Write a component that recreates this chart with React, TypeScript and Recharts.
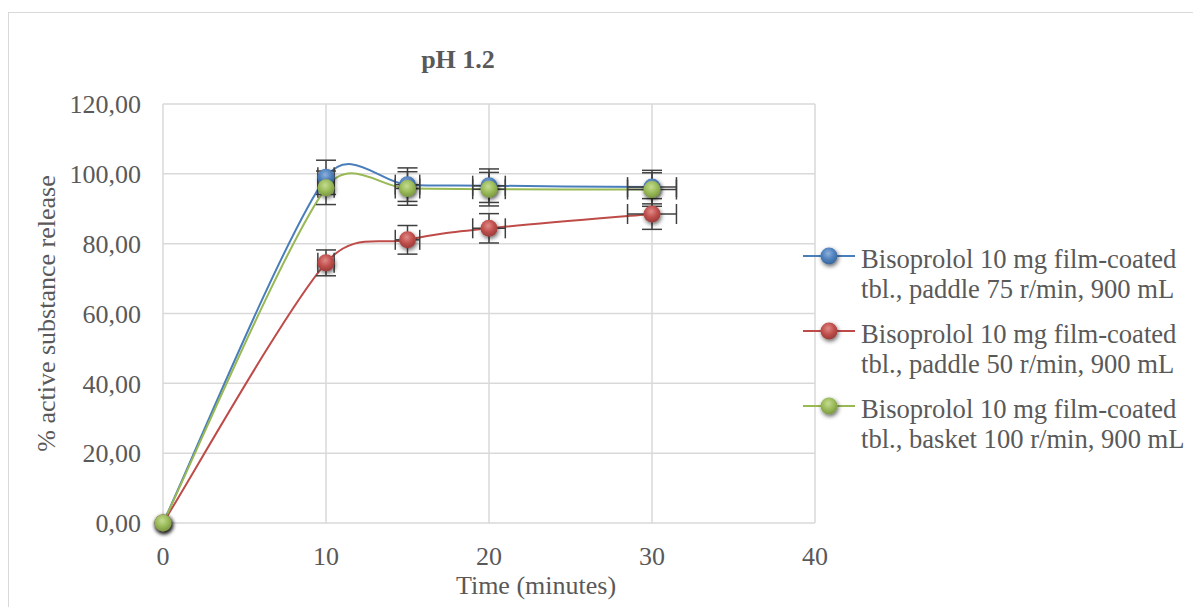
import React from 'react';
import {
  ComposedChart,
  Line,
  Scatter,
  XAxis,
  YAxis,
  CartesianGrid,
  ErrorBar,
} from 'recharts';

// sampling times (minutes)
const time = [0, 10, 15, 20, 30];
const timeErr = [0, 0.5, 0.75, 1.0, 1.5];

// % released
const paddle75 = [0, 99.0, 96.9, 96.6, 96.2];
const paddle50 = [0, 74.5, 81.1, 84.4, 88.5];
const basket100 = [0, 96.0, 95.8, 95.6, 95.5];

const paddle75Err = [0, 4.9, 4.8, 4.8, 4.8];
const paddle50Err = [0, 3.7, 4.1, 4.2, 4.4];
const basket100Err = [0, 4.8, 4.8, 4.8, 4.8];

const seriesNames = [
  ['Bisoprolol 10 mg film-coated', 'tbl., paddle 75 r/min, 900 mL'],
  ['Bisoprolol 10 mg film-coated', 'tbl., paddle 50 r/min, 900 mL'],
  ['Bisoprolol 10 mg film-coated', 'tbl., basket 100 r/min, 900 mL'],
];

const xTicks = [0, 10, 20, 30, 40];
const yTicks = [0, 20, 40, 60, 80, 100, 120];

const FONT = '"Liberation Serif", "Times New Roman", serif';
const TEXT = '#595959';

const series = [
  { id: 'p75', values: paddle75, err: paddle75Err, line: '#4A7EBB', fill: '#4F81BD', light: '#8fb0dc', dark: '#3a659a' },
  { id: 'p50', values: paddle50, err: paddle50Err, line: '#BE4B48', fill: '#C0504D', light: '#e08a87', dark: '#9a3a38' },
  { id: 'b100', values: basket100, err: basket100Err, line: '#98B954', fill: '#9BBB59', light: '#c4dc92', dark: '#7a9741' },
].map((s, i) => ({
  ...s,
  names: seriesNames[i],
  data: time.map((t, j) => ({ t, v: s.values[j], ex: timeErr[j], ey: s.err[j] })),
}));

// smoothed line like the spreadsheet "smoothed line": bezier with 1/6 tangents,
// each control arm capped at half the segment length
function smoothCurve(context: any) {
  let pts: [number, number][] = [];
  return {
    areaStart() {},
    areaEnd() {},
    lineStart() {
      pts = [];
    },
    point(x: number, y: number) {
      pts.push([+x, +y]);
    },
    lineEnd() {
      if (!pts.length) return;
      context.moveTo(pts[0][0], pts[0][1]);
      const arm = (a: [number, number], b: [number, number], cap: number) => {
        let dx = (b[0] - a[0]) / 6;
        let dy = (b[1] - a[1]) / 6;
        const len = Math.hypot(dx, dy);
        if (len > cap && len > 0) {
          dx *= cap / len;
          dy *= cap / len;
        }
        return [dx, dy];
      };
      for (let i = 0; i < pts.length - 1; i++) {
        const p0 = pts[i - 1] || pts[i];
        const p1 = pts[i];
        const p2 = pts[i + 1];
        const p3 = pts[i + 2] || p2;
        const half = Math.hypot(p2[0] - p1[0], p2[1] - p1[1]) / 2;
        const t1 = arm(p0, p2, half);
        const t2 = arm(p1, p3, half);
        context.bezierCurveTo(p1[0] + t1[0], p1[1] + t1[1], p2[0] - t2[0], p2[1] - t2[1], p2[0], p2[1]);
      }
    },
  };
}

function Marker(props: any) {
  const { cx, cy, id } = props;
  if (cx == null || cy == null) return null;
  return (
    <circle cx={cx} cy={cy} r={8.5} fill={`url(#grad-${id})`} filter="url(#mshadow)" />
  );
}

const fmt = (v: number) => v.toFixed(2).replace('.', ',');

export default function App() {
  return (
    <div style={{ position: 'relative', width: 1185, height: 599, overflow: 'hidden', fontFamily: FONT }}>
      <svg width={0} height={0} style={{ position: 'absolute' }}>
        <defs>
          {series.map((s) => (
            <radialGradient key={s.id} id={`grad-${s.id}`} cx="45%" cy="35%" r="65%">
              <stop offset="0%" stopColor={s.light} />
              <stop offset="55%" stopColor={s.fill} />
              <stop offset="100%" stopColor={s.dark} />
            </radialGradient>
          ))}
          <filter id="mshadow" x="-60%" y="-60%" width="220%" height="220%">
            <feDropShadow dx="1" dy="2" stdDeviation="2" floodColor="#000" floodOpacity="0.6" />
          </filter>
        </defs>
      </svg>

      <div
        style={{
          position: 'absolute',
          left: 0,
          top: 4,
          width: 1400,
          height: 800,
          border: '1px solid #d9d9d9',
        }}
      />

      <div
        style={{
          position: 'absolute',
          left: 350,
          top: 37,
          width: 200,
          textAlign: 'center',
          fontSize: 26,
          fontWeight: 'bold',
          lineHeight: '30px',
          color: TEXT,
        }}
      >
        pH 1.2
      </div>

      <ComposedChart
        width={1185}
        height={599}
        margin={{ top: 96, right: 378, bottom: 0, left: 0 }}
        style={{ position: 'absolute', left: 0, top: 0 }}
      >
        <CartesianGrid stroke="#d9d9d9" strokeWidth={1.5} verticalValues={xTicks} horizontalValues={yTicks} />
        <XAxis
          type="number"
          dataKey="t"
          domain={[0, 40]}
          ticks={xTicks}
          height={84}
          axisLine={false}
          tickLine={false}
          tickSize={0}
          tickMargin={24}
          tick={{ fill: TEXT, fontSize: 26, fontFamily: FONT }}
          label={{
            content: (p: any) => (
              <text
                x={p.viewBox.x + 373}
                y={p.viewBox.y + 71}
                textAnchor="middle"
                fill={TEXT}
                fontSize={26}
                fontFamily={FONT}
              >
                Time (minutes)
              </text>
            ),
          }}
        />
        <YAxis
          type="number"
          dataKey="v"
          domain={[0, 120]}
          ticks={yTicks}
          width={155}
          axisLine={false}
          tickLine={false}
          tickSize={0}
          tickMargin={22}
          tickFormatter={fmt}
          tick={{ fill: TEXT, fontSize: 26, fontFamily: FONT }}
          label={{
            content: (p: any) => {
              const x = p.viewBox.x + 47;
              const y = p.viewBox.y + p.viewBox.height / 2;
              return (
                <text
                  x={x}
                  y={y}
                  transform={`rotate(-90, ${x}, ${y})`}
                  textAnchor="middle"
                  fill={TEXT}
                  fontSize={26}
                  fontFamily={FONT}
                >
                  % active substance release
                </text>
              );
            },
          }}
        />
        {series.map((s) => (
          <Line
            key={`l-${s.id}`}
            data={s.data}
            dataKey="v"
            type={smoothCurve as any}
            stroke={s.line}
            strokeWidth={2}
            dot={false}
            activeDot={false}
            isAnimationActive={false}
          />
        ))}
        {series.map((s) => (
          <Scatter
            key={`s-${s.id}`}
            data={s.data}
            dataKey="v"
            isAnimationActive={false}
            shape={(p: any) => <Marker {...p} id={s.id} />}
          >
            <ErrorBar dataKey="ey" direction="y" width={10} stroke="#404040" strokeWidth={1.5} isAnimationActive={false} />
            <ErrorBar dataKey="ex" direction="x" width={10} stroke="#404040" strokeWidth={1.5} isAnimationActive={false} />
          </Scatter>
        ))}
      </ComposedChart>

      <div style={{ position: 'absolute', left: 795, top: 236, color: TEXT, fontSize: 26.6, lineHeight: '30px' }}>
        {series.map((s) => (
          <div key={s.id} style={{ display: 'flex', height: 60, marginBottom: 15 }}>
            <svg width={58} height={30} style={{ flex: 'none', overflow: 'visible' }}>
              <line x1={0} x2={52} y1={12} y2={12} stroke={s.line} strokeWidth={2} />
              <circle cx={26} cy={12} r={8.5} fill={`url(#grad-${s.id})`} filter="url(#mshadow)" />
            </svg>
            <div style={{ whiteSpace: 'nowrap' }}>
              <div>{s.names[0]}</div>
              <div>{s.names[1]}</div>
            </div>
          </div>
        ))}
      </div>
    </div>
  );
}
